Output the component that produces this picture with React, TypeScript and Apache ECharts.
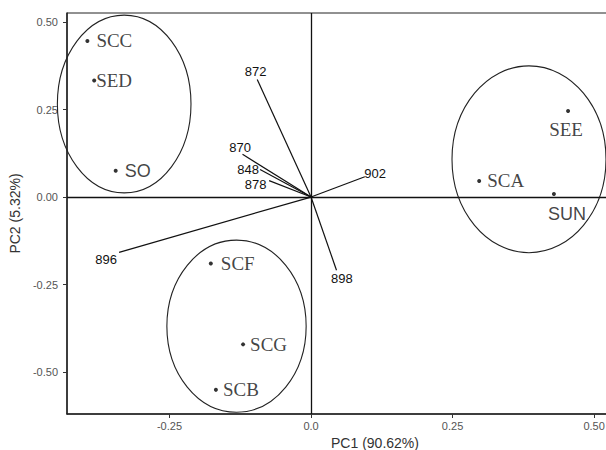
import React, { useEffect, useRef } from "react";
import * as echarts from "echarts";

// Sample scores (PC1, PC2)
const sampleNames = ["SCC", "SED", "SO", "SCF", "SCG", "SCB", "SEE", "SCA", "SUN"];
const samplePC1 = [-0.395, -0.383, -0.345, -0.177, -0.12, -0.168, 0.454, 0.297, 0.429];
const samplePC2 = [0.446, 0.333, 0.075, -0.19, -0.421, -0.551, 0.246, 0.046, 0.009];

// Loadings (wavenumbers)
const loadingNames = ["872", "870", "848", "878", "902", "898", "896"];
const loadingPC1 = [-0.095, -0.121, -0.09, -0.074, 0.095, 0.045, -0.339];
const loadingPC2 = [0.336, 0.122, 0.079, 0.047, 0.058, -0.209, -0.158];

// Group ellipses: centre x, centre y, radius x, radius y (data units)
const ellipseCX = [-0.33, -0.1316, 0.385];
const ellipseCY = [0.266, -0.369, 0.108];
const ellipseRX = [0.118, 0.123, 0.136];
const ellipseRY = [0.254, 0.246, 0.267];

// Tick values
const xTicks = [-0.25, 0, 0.25, 0.5];
const yTicks = [-0.5, -0.25, 0, 0.25, 0.5];

// Label styling (positions / fonts)
const sampleLabelPos = ["right", "right", "right", "right", "right", "right", "bottom", "right", "bottom"];
const sampleLabelDist = [7, 0, 7, 8, 5, 5, 7, 6, 9];
const sampleLabelOffset = [
  [0, 0],
  [0, 0],
  [0, 0],
  [0, 0],
  [0, 0],
  [0, 0],
  [-2, 0],
  [0, 0],
  [13, 0],
];
const sampleSerif = [true, true, false, true, true, true, true, true, false];
const loadingLabelOffset = [
  [-1.6, -7.6],
  [-2.3, -7.3],
  [-12, 0],
  [-13.6, 4],
  [10.3, -3.7],
  [5.3, 8.7],
  [-13, 7],
];

export default function App() {
  const ref = useRef<HTMLDivElement>(null);

  useEffect(() => {
    if (!ref.current) return;
    const chart = echarts.init(ref.current, undefined, { renderer: "svg" });

    const sampleData = sampleNames.map((n, i) => ({
      name: n,
      value: [samplePC1[i], samplePC2[i]],
      label: {
        show: true,
        formatter: n,
        position: sampleLabelPos[i] as any,
        distance: sampleLabelDist[i],
        offset: sampleLabelOffset[i],
        fontFamily: sampleSerif[i] ? "Liberation Serif" : "Liberation Sans",
        fontSize: sampleSerif[i] ? 19 : 18,
        color: "#111",
      },
    }));

    const option: any = {
      animation: false,
      grid: {
        left: 67,
        top: 13,
        bottom: 36,
        right: -77,
        outerBoundsMode: "none",
        containLabel: false,
        show: true,
        borderColor: "#222",
        borderWidth: 1,
        backgroundColor: "transparent",
      },
      xAxis: {
        type: "value",
        min: -0.431,
        max: 0.657,
        name: "PC1 (90.62%)",
        nameLocation: "middle",
        nameGap: 20,
        nameTextStyle: { fontFamily: "Liberation Sans", fontSize: 14, color: "#333" },
        axisLine: { show: true, onZero: false, lineStyle: { color: "#222", width: 1.5 } },
        axisTick: { show: true, length: 4, customValues: xTicks, lineStyle: { color: "#333" } },
        axisLabel: {
          customValues: xTicks,
          margin: 6,
          fontFamily: "Liberation Sans",
          fontSize: 11,
          color: "#555",
          formatter: (v: number) => (v === 0 ? "0.0" : v.toFixed(2)),
        },
        splitLine: { show: false },
      },
      yAxis: {
        type: "value",
        min: -0.62,
        max: 0.526,
        name: "PC2 (5.32%)",
        nameLocation: "middle",
        nameGap: 40,
        nameTextStyle: { fontFamily: "Liberation Sans", fontSize: 14, color: "#333" },
        axisLine: { show: true, onZero: false, lineStyle: { color: "#222", width: 1.5 } },
        axisTick: { show: true, length: 4, customValues: yTicks, lineStyle: { color: "#333" } },
        axisLabel: {
          customValues: yTicks,
          margin: 9,
          fontFamily: "Liberation Sans",
          fontSize: 11,
          color: "#555",
          formatter: (v: number) => v.toFixed(2),
        },
        splitLine: { show: false },
      },
      series: [
        {
          type: "custom",
          name: "ellipses",
          silent: true,
          encode: { x: 0, y: 1 },
          data: ellipseCX.map((cx, i) => [cx, ellipseCY[i], ellipseRX[i], ellipseRY[i]]),
          renderItem: (params: any, api: any) => {
            const c = api.coord([api.value(0), api.value(1)]);
            const s = api.size([api.value(2), api.value(3)]);
            return {
              type: "ellipse",
              shape: { cx: c[0], cy: c[1], rx: s[0], ry: s[1] },
              style: { fill: "none", stroke: "#222", lineWidth: 1.1 },
            };
          },
          z: 2,
        },
        {
          type: "custom",
          name: "loadings",
          silent: true,
          encode: { x: 0, y: 1 },
          data: loadingNames.map((n, i) => [loadingPC1[i], loadingPC2[i]]),
          renderItem: (params: any, api: any) => {
            const o = api.coord([0, 0]);
            const e = api.coord([api.value(0), api.value(1)]);
            const off = loadingLabelOffset[params.dataIndex];
            return {
              type: "group",
              children: [
                {
                  type: "line",
                  shape: { x1: o[0], y1: o[1], x2: e[0], y2: e[1] },
                  style: { stroke: "#111", lineWidth: 1.2 },
                },
                {
                  type: "text",
                  x: e[0] + off[0],
                  y: e[1] + off[1],
                  style: {
                    text: loadingNames[params.dataIndex],
                    fontFamily: "Liberation Sans",
                    fontSize: 13,
                    fill: "#111",
                    align: "center",
                    verticalAlign: "middle",
                  },
                },
              ],
            };
          },
          z: 3,
        },
        {
          type: "scatter",
          name: "samples",
          symbol: "circle",
          symbolSize: 4,
          itemStyle: { color: "#000" },
          data: sampleData,
          z: 4,
          markLine: {
            silent: true,
            symbol: ["none", "none"],
            label: { show: false },
            lineStyle: { color: "#111", width: 1.3, type: "solid" },
            data: [{ xAxis: 0 }, { yAxis: 0 }],
          },
        },
      ],
    };

    chart.setOption(option);
    return () => chart.dispose();
  }, []);

  return (
    <div
      ref={ref}
      style={{ position: "fixed", left: 0, top: 0, width: 606, height: 450, background: "#fff" }}
    />
  );
}
